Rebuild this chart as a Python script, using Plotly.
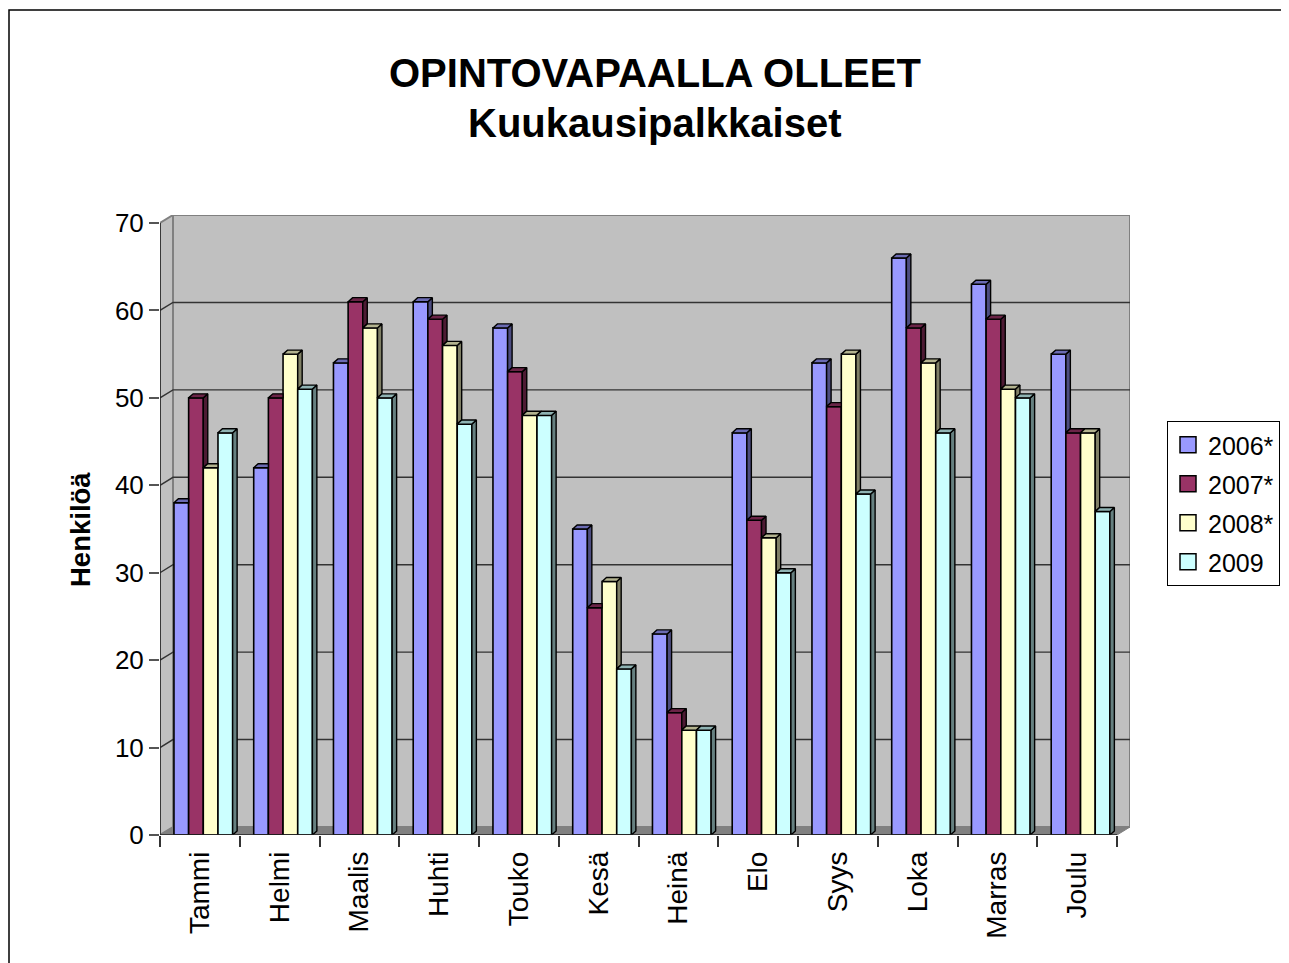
import plotly.graph_objects as go

months = ["Tammi", "Helmi", "Maalis", "Huhti", "Touko", "Kesä",
          "Heinä", "Elo", "Syys", "Loka", "Marras", "Joulu"]
series_names = ["2006*", "2007*", "2008*", "2009"]
v2006 = [38, 42, 54, 61, 58, 35, 23, 46, 54, 66, 63, 55]
v2007 = [50, 50, 61, 59, 53, 26, 14, 36, 49, 58, 59, 46]
v2008 = [42, 55, 58, 56, 48, 29, 12, 34, 55, 54, 51, 46]
v2009 = [46, 51, 50, 47, 48, 19, 12, 30, 39, 46, 50, 37]
yticks = [0, 10, 20, 30, 40, 50, 60, 70]

front_colors = ["#9999FF", "#993366", "#FFFFCC", "#CCFFFF"]
cap_colors = ["#6B6BB3", "#6B2447", "#B3B38F", "#8FB3B3"]
side_colors = ["#4D4D80", "#4D1A33", "#808066", "#668080"]

values = [v2006, v2007, v2008, v2009]
FONT = "Arial, Liberation Sans, sans-serif"

# geometry (in axis units)
W = 0.184
offsets = [-0.325, -0.141, 0.043, 0.227]
ddx, ddy = 0.056, 0.46          # bar depth projection
wdx, wdy = 0.163, 0.915         # wall depth projection
x_lo, x_hi = -0.5, 11.5
ymax = 70

# page offset (body margin) is 8px; target page pixels -> figure pixels
FW, FH = 1300, 960
PW, PH = 970, 620               # plot area size
PL, PB = 160 - 8, 835 - 8       # plot left / bottom in figure pixels


def px(xp):
    return (xp - 8 - PL) / PW


def py(yp):
    return (PB - (yp - 8)) / PH


fig = go.Figure()

# front faces
for s, vals in enumerate(values):
    fig.add_trace(go.Bar(
        x=list(range(len(months))), y=vals, width=W, offset=offsets[s],
        marker=dict(color=front_colors[s], line=dict(color="black", width=1.6)),
        showlegend=False, hoverinfo="skip"))

# sides and caps
for s, vals in enumerate(values):
    sx, sy, cx, cy = [], [], [], []
    for i, v in enumerate(vals):
        L = i + offsets[s]
        R = L + W
        vn = values[s + 1][i] if s + 1 < len(values) else 0
        if vn < v:
            sx += [R, R + ddx, R + ddx, R, R, None]
            sy += [vn, vn + ddy, v + ddy, v, vn, None]
        if s + 1 < len(values) and vn > v:
            cx += [L, L + ddx, R, R, L, None]
            cy += [v, v + ddy, v + ddy, v, v, None]
        else:
            cx += [L, L + ddx, R + ddx, R, L, None]
            cy += [v, v + ddy, v + ddy, v, v, None]
    fig.add_trace(go.Scatter(x=sx, y=sy, mode="lines", fill="toself",
                             fillcolor=side_colors[s],
                             line=dict(color="black", width=1.4),
                             showlegend=False, hoverinfo="skip"))
    fig.add_trace(go.Scatter(x=cx, y=cy, mode="lines", fill="toself",
                             fillcolor=cap_colors[s],
                             line=dict(color="black", width=1.4),
                             showlegend=False, hoverinfo="skip"))

# legend entries
for s, name in enumerate(series_names):
    fig.add_trace(go.Scatter(
        x=[None], y=[None], mode="markers", name=name, legendgroup=name,
        marker=dict(symbol="square", size=16, color=front_colors[s],
                    line=dict(color="black", width=1.5))))

shapes = []
# left wall
shapes.append(dict(type="path", xref="x", yref="y", layer="below",
                   path=f"M{x_lo},0 L{x_lo+wdx},{wdy} L{x_lo+wdx},{ymax+wdy} L{x_lo},{ymax} Z",
                   fillcolor="#C0C0C0", line=dict(color="#808080", width=2)))
# back wall
shapes.append(dict(type="rect", xref="x", yref="y", layer="below",
                   x0=x_lo + wdx, y0=wdy, x1=x_hi + wdx, y1=ymax + wdy,
                   fillcolor="#C0C0C0", line=dict(color="#808080", width=2)))
# floor
shapes.append(dict(type="path", xref="x", yref="y", layer="below",
                   path=f"M{x_lo},0 L{x_hi},0 L{x_hi+wdx},{wdy} L{x_lo+wdx},{wdy} Z",
                   fillcolor="#808080", line=dict(color="#808080", width=1)))
# gridlines
for t in yticks[1:-1]:
    shapes.append(dict(type="path", xref="x", yref="y", layer="below",
                       path=f"M{x_lo},{t} L{x_lo+wdx},{t+wdy} L{x_hi+wdx},{t+wdy}",
                       line=dict(color="#333333", width=1.4)))
# front axis lines
shapes.append(dict(type="line", xref="x", yref="y", x0=x_lo, y0=0, x1=x_lo, y1=ymax,
                   line=dict(color="#222222", width=1.5)))
shapes.append(dict(type="line", xref="x", yref="y", x0=x_lo, y0=0, x1=x_hi, y1=0,
                   line=dict(color="#222222", width=1.5)))
# chart border (left edge kept just inside the figure)
shapes.append(dict(type="rect", xref="paper", yref="paper",
                   x0=px(9), y0=py(1100), x1=px(1400), y1=py(10),
                   line=dict(color="black", width=1.5), fillcolor="rgba(0,0,0,0)"))

annotations = [
    dict(text="<b>OPINTOVAPAALLA OLLEET</b>", xref="paper", yref="paper",
         x=px(655), y=py(73), showarrow=False,
         xanchor="center", yanchor="middle", font=dict(family=FONT, size=40, color="black")),
    dict(text="<b>Kuukausipalkkaiset</b>", xref="paper", yref="paper",
         x=px(655), y=py(123), showarrow=False,
         xanchor="center", yanchor="middle", font=dict(family=FONT, size=40, color="black")),
    dict(text="<b>Henkilöä</b>", xref="paper", yref="paper",
         x=px(80), y=py(530), showarrow=False, textangle=-90,
         xanchor="center", yanchor="middle", font=dict(family=FONT, size=27.5, color="black")),
]

fig.update_layout(
    width=FW, height=FH,
    margin=dict(l=PL, r=FW - PL - PW, t=PB - PH, b=FH - PB),
    paper_bgcolor="white", plot_bgcolor="rgba(0,0,0,0)",
    barmode="overlay",
    shapes=shapes, annotations=annotations,
    showlegend=True,
    legend=dict(x=px(1167), y=py(421), xanchor="left", yanchor="top",
                bgcolor="white", bordercolor="black", borderwidth=1,
                font=dict(family=FONT, size=25, color="black"),
                traceorder="grouped", tracegroupgap=3.5, itemwidth=30),
    xaxis=dict(range=[x_lo, x_lo + PW / 79.75], tickmode="array",
               tickvals=list(range(len(months))), ticktext=months, tickangle=-90,
               ticks="", showgrid=False, zeroline=False, showline=False,
               ticklabelstandoff=10,
               tickfont=dict(family=FONT, size=28, color="black"),
               minor=dict(tickmode="array",
                          tickvals=[k - 0.5 for k in range(len(months) + 1)],
                          ticks="outside", ticklen=11, tickcolor="#333333", tickwidth=1.5,
                          showgrid=False)),
    yaxis=dict(range=[0, ymax + wdy], tickmode="array", tickvals=yticks,
               ticks="outside", ticklen=10, tickcolor="#555555", tickwidth=1.5,
               showgrid=False, zeroline=False, showline=False,
               tickfont=dict(family=FONT, size=26, color="black")),
)

fig.write_html("out.html")
